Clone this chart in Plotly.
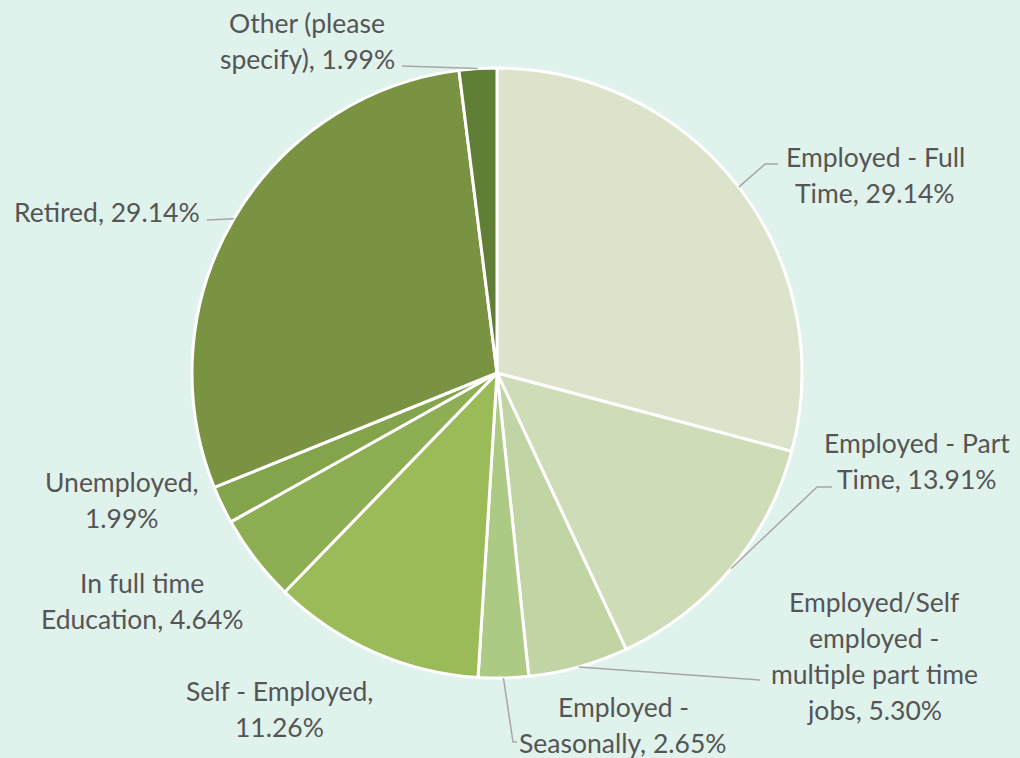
import math
import plotly.graph_objects as go

# ---- data ----
categories = [
    "Employed - Full Time",
    "Employed - Part Time",
    "Employed/Self employed - multiple part time jobs",
    "Employed - Seasonally",
    "Self - Employed",
    "In full time Education",
    "Unemployed",
    "Retired",
    "Other (please specify)",
]
values = [29.14, 13.91, 5.30, 2.65, 11.26, 4.64, 1.99, 29.14, 1.99]

# wrapped label text ("|" = line break) and separator before the value
wrapped = [
    "Employed - Full|Time",
    "Employed - Part|Time",
    "Employed/Self|employed -|multiple part time|jobs",
    "Employed -|Seasonally",
    "Self - Employed",
    "In full time|Education",
    "Unemployed",
    "Retired",
    "Other (please|specify)",
]
separators = [", ", ", ", ", ", ", ", ",|", ", ", ",|", ", ", ", "]

colors = ["#DBE4CB", "#CFDCB8", "#C1D5A4", "#ADCA84", "#9BBB59",
          "#8DAE52", "#84A44C", "#7A9343", "#617E36"]

# ---- layout (pixel positions) ----
W, H = 1020, 758
CX, CY, R = 497, 373, 305
label_pos = [(875, 157), (917, 443), (874, 602), (623, 707), (279, 691),
             (142, 583), (122, 482), (107, 212), (307, 23)]
line_gap = 36
leader_pts = [
    [(765, 164), (778, 164)],
    [(817, 487), (832, 487)],
    [(760, 680)],
    [(513, 742), (517, 742)],
    None, None, None,
    [(207, 220)],
    [(402, 66)],
]


def px(x):
    return x / W


def py(y):
    return 1 - y / H


fig = go.Figure(go.Pie(
    labels=categories, values=values, sort=False, direction="clockwise",
    rotation=0, textinfo="none", hoverinfo="label+percent",
    marker=dict(colors=colors, line=dict(color="white", width=3)),
    domain=dict(x=[px(CX - R), px(CX + R)], y=[py(CY + R), py(CY - R)]),
    showlegend=False,
))

annotations = []
shapes = []
total = sum(values)
cum = 0.0
for i, v in enumerate(values):
    mid = (cum + v / 2) / total * 2 * math.pi
    cum += v
    ax = CX + R * math.sin(mid)
    ay = CY - R * math.cos(mid)
    text = f"{wrapped[i]}{separators[i]}{v:.2f}%"
    lines = text.split("|")
    lx, ly = label_pos[i]
    for k, ln in enumerate(lines):
        annotations.append(dict(
            x=px(lx), y=py(ly + k * line_gap), xref="paper", yref="paper",
            text=ln.strip(), showarrow=False, xanchor="center", yanchor="middle",
            font=dict(family="Lato, Open Sans, sans-serif", size=26.5, color="#555555"),
        ))
    if leader_pts[i]:
        pts = [(ax, ay)] + leader_pts[i]
        path = "M " + " L ".join(f"{px(x)},{py(y)}" for x, y in pts)
        shapes.append(dict(type="path", path=path, xref="paper", yref="paper",
                           line=dict(color="#A6A6A6", width=1.5)))

fig.update_layout(
    width=W, height=H,
    margin=dict(l=0, r=0, t=0, b=0),
    paper_bgcolor="#E0F2EC", plot_bgcolor="#E0F2EC",
    annotations=annotations, shapes=shapes,
)

fig.write_html(
    "out.html",
    config={"displayModeBar": False},
    post_script="document.body.style.margin='0';document.body.style.overflow='hidden';",
)
